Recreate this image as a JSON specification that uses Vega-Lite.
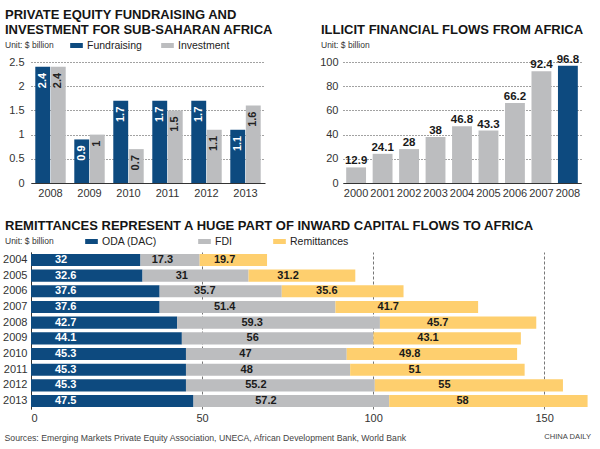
{
  "$schema": "https://vega.github.io/schema/vega-lite/v6.json",
  "background": "white",
  "padding": {"left": 2, "top": 8, "right": 3, "bottom": 3},
  "config": {
    "font": "Liberation Sans, sans-serif",
    "view": {"stroke": null},
    "title": {"font": "Liberation Sans", "fontSize": 13, "fontWeight": "bold", "color": "#151515", "anchor": "start", "frame": "group", "subtitleFont": "Liberation Sans", "subtitleFontSize": 8.5, "subtitleColor": "#333", "subtitlePadding": 4, "lineHeight": 15.5},
    "axis": {"labelFont": "Liberation Sans", "labelFontSize": 11, "labelColor": "#333", "title": null},
    "legend": {"labelFont": "Liberation Sans", "labelFontSize": 10.5, "labelColor": "#222", "orient": "none", "direction": "horizontal", "title": null, "symbolType": "M-1,-0.4H1V0.4H-1Z", "symbolSize": 160, "labelOffset": 4, "symbolStrokeWidth": 0, "padding": 0}
  },
  "datasets": {
    "pe": [
      {"year": "2008", "series": "Fundraising", "value": 2.4},
      {"year": "2008", "series": "Investment", "value": 2.4},
      {"year": "2009", "series": "Fundraising", "value": 0.9},
      {"year": "2009", "series": "Investment", "value": 1},
      {"year": "2010", "series": "Fundraising", "value": 1.7},
      {"year": "2010", "series": "Investment", "value": 0.7},
      {"year": "2011", "series": "Fundraising", "value": 1.7},
      {"year": "2011", "series": "Investment", "value": 1.5},
      {"year": "2012", "series": "Fundraising", "value": 1.7},
      {"year": "2012", "series": "Investment", "value": 1.1},
      {"year": "2013", "series": "Fundraising", "value": 1.1},
      {"year": "2013", "series": "Investment", "value": 1.6}
    ],
    "iff": [
      {"year": "2000", "value": 12.9},
      {"year": "2001", "value": 24.1},
      {"year": "2002", "value": 28},
      {"year": "2003", "value": 38},
      {"year": "2004", "value": 46.8},
      {"year": "2005", "value": 43.3},
      {"year": "2006", "value": 66.2},
      {"year": "2007", "value": 92.4},
      {"year": "2008", "value": 96.8}
    ],
    "flows": [
      {"year": "2004", "type": "ODA (DAC)", "value": 32},
      {"year": "2004", "type": "FDI", "value": 17.3},
      {"year": "2004", "type": "Remittances", "value": 19.7},
      {"year": "2005", "type": "ODA (DAC)", "value": 32.6},
      {"year": "2005", "type": "FDI", "value": 31},
      {"year": "2005", "type": "Remittances", "value": 31.2},
      {"year": "2006", "type": "ODA (DAC)", "value": 37.6},
      {"year": "2006", "type": "FDI", "value": 35.7},
      {"year": "2006", "type": "Remittances", "value": 35.6},
      {"year": "2007", "type": "ODA (DAC)", "value": 37.6},
      {"year": "2007", "type": "FDI", "value": 51.4},
      {"year": "2007", "type": "Remittances", "value": 41.7},
      {"year": "2008", "type": "ODA (DAC)", "value": 42.7},
      {"year": "2008", "type": "FDI", "value": 59.3},
      {"year": "2008", "type": "Remittances", "value": 45.7},
      {"year": "2009", "type": "ODA (DAC)", "value": 44.1},
      {"year": "2009", "type": "FDI", "value": 56},
      {"year": "2009", "type": "Remittances", "value": 43.1},
      {"year": "2010", "type": "ODA (DAC)", "value": 45.3},
      {"year": "2010", "type": "FDI", "value": 47},
      {"year": "2010", "type": "Remittances", "value": 49.8},
      {"year": "2011", "type": "ODA (DAC)", "value": 45.3},
      {"year": "2011", "type": "FDI", "value": 48},
      {"year": "2011", "type": "Remittances", "value": 51},
      {"year": "2012", "type": "ODA (DAC)", "value": 45.3},
      {"year": "2012", "type": "FDI", "value": 55.2},
      {"year": "2012", "type": "Remittances", "value": 55},
      {"year": "2013", "type": "ODA (DAC)", "value": 47.5},
      {"year": "2013", "type": "FDI", "value": 57.2},
      {"year": "2013", "type": "Remittances", "value": 58}
    ]
  },
  "title": {"text": "CHINA DAILY", "orient": "bottom", "anchor": "end", "frame": "bounds", "offset": -9, "font": "Liberation Sans", "fontSize": 7.6, "fontWeight": "normal", "color": "#444"},
  "resolve": {"scale": {"color": "independent"}, "legend": {"color": "independent"}},
  "spacing": 22,
  "vconcat": [
    {
      "hconcat": [
        {
          "width": 234,
          "height": 121,
          "title": {"text": ["PRIVATE EQUITY FUNDRAISING AND", "INVESTMENT FOR SUB-SAHARAN AFRICA"], "subtitle": "Unit: $ billion", "dx": -26, "offset": 6.5},
          "data": {"name": "pe"},
          "encoding": {
            "x": {"field": "year", "type": "nominal", "scale": {"paddingInner": 0.22, "paddingOuter": 0.11}, "axis": {"labelAngle": 0, "domainColor": "#333", "ticks": false, "labelPadding": 4}},
            "xOffset": {"field": "series", "type": "nominal", "scale": {"domain": ["Fundraising", "Investment"], "paddingInner": 0.04}},
            "y": {"field": "value", "type": "quantitative", "scale": {"domain": [0, 2.5], "nice": false}, "axis": {"values": [0, 0.5, 1, 1.5, 2, 2.5], "format": "~g", "domain": false, "ticks": false, "gridDash": [1, 2], "gridColor": "#444", "labelPadding": 7}}
          },
          "layer": [
            {
              "mark": {"type": "bar"},
              "encoding": {
                "color": {"field": "series", "type": "nominal", "scale": {"domain": ["Fundraising", "Investment"], "range": ["#0d4a7f", "#bcbdbf"]}, "legend": {"legendX": 39, "legendY": -23, "columnPadding": 19}}
              }
            },
            {
              "mark": {"type": "text", "angle": 270, "align": "right", "baseline": "middle", "dx": -6, "fontWeight": "bold", "fontSize": 11},
              "encoding": {
                "text": {"field": "value", "type": "nominal"},
                "color": {"condition": {"test": "datum.series === 'Fundraising'", "value": "white"}, "value": "#222"}
              }
            }
          ]
        },
        {
          "width": 238,
          "height": 121,
          "title": {"text": "ILLICIT FINANCIAL FLOWS FROM AFRICA", "subtitle": "Unit: $ billion", "dx": -22, "offset": 4},
          "data": {"name": "iff"},
          "encoding": {
            "x": {"field": "year", "type": "nominal", "scale": {"paddingInner": 0.25, "paddingOuter": 0.12}, "axis": {"labelAngle": 0, "domainColor": "#333", "ticks": false, "labelPadding": 4}},
            "y": {"field": "value", "type": "quantitative", "scale": {"domain": [0, 100], "nice": false}, "axis": {"values": [0, 20, 40, 60, 80, 100], "domain": false, "ticks": false, "gridDash": [1, 2], "gridColor": "#444", "labelPadding": 5}}
          },
          "layer": [
            {
              "mark": {"type": "bar"},
              "encoding": {
                "color": {"condition": {"test": "datum.year === '2008'", "value": "#0d4a7f"}, "value": "#bcbdbf"}
              }
            },
            {
              "mark": {"type": "text", "baseline": "bottom", "dy": -1, "fontWeight": "bold", "fontSize": 11.5, "color": "#1a1a1a"},
              "encoding": {"text": {"field": "value", "type": "nominal"}}
            }
          ]
        }
      ],
      "spacing": 78,
      "bounds": "flush"
    },
    {
      "width": 560,
      "height": 157,
      "title": {"text": "REMITTANCES REPRESENT A HUGE PART OF INWARD CAPITAL FLOWS TO AFRICA", "subtitle": "Unit: $ billion", "dx": -26, "offset": -10.5},
      "data": {"name": "flows"},
      "transform": [{"window": [{"op": "row_number", "as": "ord"}], "groupby": ["year"]}],
      "encoding": {
        "y": {"field": "year", "type": "nominal", "scale": {"paddingInner": 0.23, "paddingOuter": 0.12}, "axis": {"ticks": false, "domainColor": "#333", "labelPadding": 4}}
      },
      "layer": [
        {
          "mark": {"type": "bar"},
          "encoding": {
            "x": {"field": "value", "type": "quantitative", "stack": "zero", "scale": {"domain": [0, 163.7], "nice": false}, "axis": {"values": [0, 50, 100, 150], "domain": false, "ticks": false, "gridDash": [3, 2], "gridColor": "#777", "labelPadding": 3, "title": "Sources: Emerging Markets Private Equity Association,  UNECA,  African Development Bank, World Bank", "titleFont": "Liberation Sans", "titleFontSize": 8.7, "titleFontWeight": "normal", "titleColor": "#444", "titleX": -27, "titleY": 28, "titleAlign": "left", "titleBaseline": "middle"}},
            "color": {"field": "type", "type": "nominal", "scale": {"domain": ["ODA (DAC)", "FDI", "Remittances"], "range": ["#0d4a7f", "#bcbdbf", "#fecf6e"]}, "legend": {"legendX": 54, "legendY": -17, "columnPadding": 41}},
            "order": {"field": "ord", "type": "quantitative"}
          }
        },
        {
          "mark": {"type": "text", "align": "left", "baseline": "middle", "dx": 24, "fontWeight": "bold", "fontSize": 11, "color": "white"},
          "encoding": {
            "x": {"field": "value", "type": "quantitative", "stack": "zero", "bandPosition": 0},
            "detail": {"field": "type", "type": "nominal"},
            "order": {"field": "ord", "type": "quantitative"},
            "text": {"condition": {"test": "datum.type === 'ODA (DAC)'", "field": "value", "type": "nominal"}, "value": ""}
          }
        },
        {
          "mark": {"type": "text", "align": "center", "baseline": "middle", "fontWeight": "bold", "fontSize": 11, "color": "#1a1a1a"},
          "encoding": {
            "x": {"field": "value", "type": "quantitative", "stack": "zero", "bandPosition": 0.37},
            "detail": {"field": "type", "type": "nominal"},
            "order": {"field": "ord", "type": "quantitative"},
            "text": {"condition": {"test": "datum.type !== 'ODA (DAC)'", "field": "value", "type": "nominal"}, "value": ""}
          }
        }
      ]
    }
  ]
}
